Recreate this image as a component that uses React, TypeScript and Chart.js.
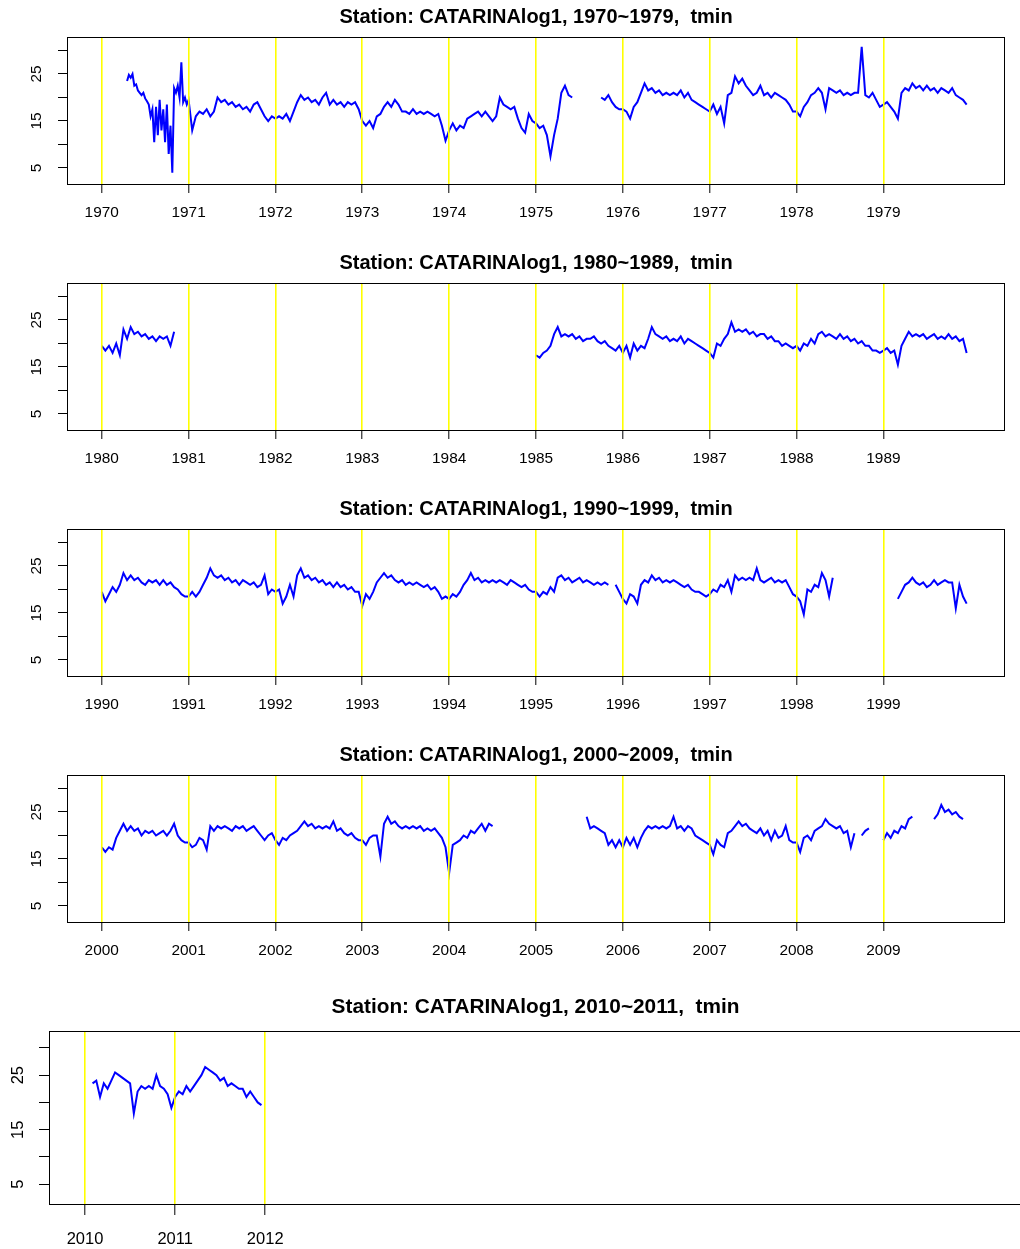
import React, { useEffect, useRef } from "react";
import { Chart, registerables } from "chart.js";

Chart.register(...registerables);

// Daily minimum temperature (°C) at CATARINAlog1, sampled at even steps through each
// year (index i of an n-long year array sits at year + i / n). null = no record.
const _ = null;

// 1970s
const t1970 = [_, _, _, _, _, _, _, _, _, _, _, _, _, _, 23.5, 24.8, 24.2, 25, 22.5, 22.8, 21.5, 21, 20.5, 21, 19.8, 19.2, 18.5, 16, 17.5, 10.5, 18, 12, 19.5, 13, 17.5, 10.5, 18.5, 8, 14, 4, 22, 21, 22.5, 20, 27.5, 19, 20, 18.5];
const t1971 = [19.5, 13, 16, 17, 16.5, 17.5, 16, 17, 20, 19, 19.5, 18.5, 19, 18, 18.5, 17.5, 18, 17, 18.5, 19, 17.5, 16, 15, 16];
const t1972 = [15.5, 16, 15.5, 16.5, 15, 17, 19, 20.5, 19.5, 20, 19, 19.5, 18.5, 20, 21, 18.5, 19.5, 18.5, 19, 18, 19, 18.5, 19, 17.5];
const t1973 = [15, 14, 15, 13.5, 16, 16.5, 18, 19, 18, 19.5, 18.5, 17, 17, 16.5, 17.5, 16.5, 17, 16.5, 17, 16.5, 16, 16.5, 14, 10.8];
const t1974 = [13, 14.5, 13, 14, 13.5, 15.5, 16, 16.5, 17, 16, 17, 16, 15, 16, 20, 18.5, 18, 17.5, 18, 15.5, 13.5, 12.5, 16.5, 15];
const t1975 = [14.5, 13.5, 14, 12, 7.5, 12, 15.5, 21, 22.5, 20.5, 20, _, _, _, _, _, _, _, 20, 19.5, 20.5, 19, 18, 17.5];
const t1976 = [17.5, 17, 15.5, 18, 19, 21, 23, 21.5, 22, 21, 21.5, 20.5, 21, 20.5, 21, 20.5, 21.5, 20, 21, 19.5, 19, 18.5, 18, 17.5];
const t1977 = [17, 18.5, 16.5, 18, 14.5, 20.5, 21, 24.5, 23, 24, 22.5, 21.5, 20.5, 21, 22.5, 20.5, 21, 20, 21, 20.5, 20, 19.5, 18.5, 17];
const t1978 = [17, 16, 18, 19, 20.5, 21, 22, 21, 17.5, 22, 21.5, 21, 21.5, 20.5, 21, 20.5, 21, 21, 30.8, 20.5, 20, 21, 19.5, 18];
const t1979 = [18.5, 19, 18, 17, 15.5, 21, 22, 21.5, 23, 22, 22.5, 21.5, 22.5, 21.5, 22, 21, 22, 21.5, 21, 22, 20.5, 20, 19.5, 18.5];

// 1980s
const t1980 = [19.5, 18.5, 19.5, 18, 20, 17.5, 23, 21, 23.5, 22, 22.5, 21.5, 22, 21, 21.5, 20.5, 21.5, 21, 21.5, 19.5, 22.5, _, _, _];
const t1985 = [17.5, 17, 18, 18.5, 19.5, 22, 23.5, 21.5, 22, 21.5, 22, 21, 21.5, 20.5, 21, 21, 21.5, 20.5, 20, 20.5, 19.5, 19, 18.5, 19.5];
const t1986 = [18, 19.5, 17, 20, 18.5, 19.5, 19, 21, 23.5, 22, 21.5, 21, 21.5, 20.5, 21, 20.5, 21.5, 20, 21, 20.5, 20, 19.5, 19, 18.5];
const t1987 = [18, 17, 20, 19.5, 21, 22, 24.5, 22.5, 23, 22.5, 23, 22, 22.5, 21.5, 22, 22, 21, 21.5, 20.5, 20.5, 19.5, 20, 19.5, 19];
const t1988 = [19.5, 18.5, 20, 19.5, 21, 20, 22, 22.5, 21.5, 22, 21.5, 21, 22, 21, 21.5, 20.5, 21, 20, 20.5, 19.5, 19.5, 18.5, 18.5, 18];
const t1989 = [18.5, 19, 18, 18.5, 15.5, 19.5, 21, 22.5, 21.5, 22, 21.5, 22, 21, 21.5, 22, 21, 21.5, 21, 22, 21, 21.5, 20.5, 21, 18];

// 1990s
const t1990 = [19.5, 17.5, 19, 20.5, 19.5, 21, 23.5, 22, 23, 22, 22.5, 21.5, 21, 22, 21.5, 22, 21, 22, 21, 21.5, 20.5, 20, 19, 18.5];
const t1991 = [18.5, 19.5, 18.5, 19.5, 21, 22.5, 24.5, 23, 22.5, 23, 22, 22.5, 21.5, 22, 21, 22, 21.5, 21, 21.5, 20.5, 21, 23, 19, 20];
const t1992 = [19.5, 20, 17, 18.5, 21, 18.5, 23, 24.5, 22.5, 23, 22, 22.5, 21.5, 22, 21, 21.5, 20.5, 21.5, 20.5, 21, 20, 20.5, 19.5, 19.5];
const t1993 = [16.5, 19, 18, 19.5, 21.5, 22.5, 23.5, 22.5, 23, 22, 21.5, 22, 21, 21.5, 21, 21.5, 21, 20.5, 21, 20, 20.5, 19.5, 18, 18.5];
const t1994 = [18, 19, 18.5, 19.5, 21, 22, 23.5, 22, 22.5, 21.5, 22, 21.5, 22, 21.5, 22, 21.5, 21, 22, 21.5, 21, 20.5, 21, 20, 19.5];
const t1995 = [19.5, 18.5, 19.5, 19, 20.5, 19.5, 22.5, 23, 22, 22.5, 21.5, 22, 22.5, 21.5, 22, 21.5, 21, 21.5, 21, 21.5, 21, _, 21, 19.5];
const t1996 = [18, 17, 19, 18.5, 17, 21, 22, 21.5, 23, 22, 22.5, 21.5, 22, 21.5, 22, 21.5, 21, 20.5, 21, 20, 19.5, 19.5, 19, 18.5];
const t1997 = [19, 20, 19.5, 21, 20.5, 22, 19.5, 23, 22, 22.5, 22, 22.5, 22, 24.5, 22, 21.5, 22, 22.5, 21.5, 22, 21.5, 22, 20.5, 19];
const t1998 = [18.5, 17.5, 14.7, 20, 19.5, 21, 20.5, 23.5, 22, 18.5, 22.5, _, _, _, _, _, _, _, _, _, _, _, _, _];
const t1999 = [_, _, _, _, 18, 19.5, 21, 21.5, 22.5, 21.5, 21, 21.5, 20.5, 21, 22, 21, 21.5, 22, 21.5, 21.5, 16, 21, 18.5, 17];

// 2000s
const t2000 = [17.5, 16.5, 17.5, 17, 19.5, 21, 22.5, 21, 22, 21, 21.5, 20, 21, 20.5, 21, 20, 20.5, 21, 20, 21, 22.5, 20, 19, 18.5];
const t2001 = [18.5, 17.5, 18, 19.5, 19, 17, 22, 21, 22, 21.5, 22, 21.5, 21, 22, 21.5, 22, 21, 21.5, 22, 21, 20, 19, 20, 20.5];
const t2002 = [19, 18, 19.5, 19, 20, 20.5, 21, 22, 23, 22, 22.5, 21.5, 22, 21.5, 22, 21.5, 23, 21, 21.5, 20.5, 20, 20.5, 19.5, 19];
const t2003 = [19, 18, 19.5, 20, 20, 15.5, 22.5, 24, 22.5, 23, 22, 21.5, 22, 21.5, 22, 21.5, 22, 21, 21.5, 21, 21.5, 20.5, 19.5, 17.5];
const t2004 = [12, 18, 18.5, 19, 20, 19.5, 21, 20.5, 21.5, 22.5, 21, 22.5, 22, _, _, _, _, _, _, _, _, _, _, _];
const t2005 = [_, _, _, _, _, _, _, _, _, _, _, _, _, _, 24, 21.5, 22, 21.5, 21, 20.5, 18, 19, 17.5, 19];
const t2006 = [17.5, 19.5, 18, 19.5, 17.5, 19.5, 21, 22, 21.5, 22, 21.5, 22, 21.5, 22, 24, 21.5, 22, 21, 22, 21.5, 20, 19.5, 19, 18.5];
const t2007 = [18, 16, 19, 18, 17.5, 20.5, 21, 22, 23, 22, 22.5, 21.5, 21, 20.5, 21.5, 20, 21, 19, 21, 19.5, 20, 22, 19, 18.5];
const t2008 = [18.5, 16.5, 19.5, 20, 19, 21, 21.5, 22, 23.5, 22.5, 22, 21.5, 22, 20.5, 21, 17.5, 20.5, _, 20, 21, 21.5, _, _, _];
const t2009 = [19, 20.5, 19.5, 21, 20.5, 22, 21.5, 23.5, 24, _, _, _, _, _, 23.5, 24.5, 26.5, 25, 25.5, 24.5, 25, 24, 23.5, _];

// 2010s
const t2010 = [_, _, 23.5, 24, 21, 23.5, 22.5, 24, 25.5, 25, 24.5, 24, 23.5, 18, 22, 23, 22.5, 23, 22.5, 25, 23, 22.5, 21.5, 19];
const t2011 = [21, 22, 21.5, 23, 22, 23, 24, 25, 26.5, 26, 25.5, 25, 24, 24.5, 23, 23.5, 23, 22.5, 22.5, 21, 22, 21, 20, 19.5];

// Axis ticks
const yTickValues = [5, 10, 15, 20, 25, 30];
const yTickLabels = [5, 15, 25];
const years1970s = [1970, 1971, 1972, 1973, 1974, 1975, 1976, 1977, 1978, 1979];
const years1980s = [1980, 1981, 1982, 1983, 1984, 1985, 1986, 1987, 1988, 1989];
const years1990s = [1990, 1991, 1992, 1993, 1994, 1995, 1996, 1997, 1998, 1999];
const years2000s = [2000, 2001, 2002, 2003, 2004, 2005, 2006, 2007, 2008, 2009];
const years2010s = [2010, 2011, 2012];

type Series = Record<number, (number | null)[]>;

const records: Series = {
  1970: t1970, 1971: t1971, 1972: t1972, 1973: t1973, 1974: t1974,
  1975: t1975, 1976: t1976, 1977: t1977, 1978: t1978, 1979: t1979,
  1980: t1980, 1985: t1985, 1986: t1986, 1987: t1987, 1988: t1988, 1989: t1989,
  1990: t1990, 1991: t1991, 1992: t1992, 1993: t1993, 1994: t1994,
  1995: t1995, 1996: t1996, 1997: t1997, 1998: t1998, 1999: t1999,
  2000: t2000, 2001: t2001, 2002: t2002, 2003: t2003, 2004: t2004,
  2005: t2005, 2006: t2006, 2007: t2007, 2008: t2008, 2009: t2009,
  2010: t2010, 2011: t2011,
};

const STATION = "CATARINAlog1";
const VARIABLE = "tmin";

type PanelSpec = { from: number; to: number; ticks: number[]; dataYears: number[] };

const panels: PanelSpec[] = [
  { from: 1970, to: 1979, ticks: years1970s, dataYears: years1970s },
  { from: 1980, to: 1989, ticks: years1980s, dataYears: years1980s },
  { from: 1990, to: 1999, ticks: years1990s, dataYears: years1990s },
  { from: 2000, to: 2009, ticks: years2000s, dataYears: years2000s },
  { from: 2010, to: 2011, ticks: years2010s, dataYears: [2010, 2011] },
];

type Geo = {
  top: number; width: number; height: number;
  yAxisW: number; xAxisH: number; padRight: number;
  titleSize: number; titlePadTop: number; titlePadBottom: number;
  tickSize: number; xTickLen: number; xTickPad: number; yTickLen: number; yTickPad: number;
  yMin: number; yMax: number;
};

const stdGeo = (top: number): Geo => ({
  top, width: 1020, height: 246,
  yAxisW: 67, xAxisH: 61, padRight: 15,
  titleSize: 20, titlePadTop: 5, titlePadBottom: 8,
  tickSize: 15.4, xTickLen: 8, xTickPad: 11, yTickLen: 9, yTickPad: 12.4,
  yMin: 1.38, yMax: 32.87,
});

const geos: Geo[] = [
  stdGeo(0), stdGeo(246), stdGeo(492), stdGeo(738),
  {
    top: 984, width: 1040, height: 265,
    yAxisW: 49, xAxisH: 44, padRight: 18,
    titleSize: 20.8, titlePadTop: 10.5, titlePadBottom: 11.5,
    tickSize: 16.5, xTickLen: 10, xTickPad: 14.5, yTickLen: 10, yTickPad: 11.8,
    yMin: 1.2, yMax: 33.1,
  },
];

const FONT = '"Liberation Sans", Arial, Helvetica, sans-serif';

function buildPoints(years: number[]) {
  const pts: { x: number; y: number | null }[] = [];
  for (const yr of years) {
    const vals = records[yr];
    if (!vals) {
      pts.push({ x: yr, y: null });
      continue;
    }
    vals.forEach((v, i) => pts.push({ x: yr + i / vals.length, y: v }));
  }
  return pts;
}

// Black frame around the plotting region
const framePlugin = {
  id: "frame",
  afterDraw(chart: any) {
    const { ctx, chartArea: a } = chart;
    ctx.save();
    ctx.strokeStyle = "#000";
    ctx.lineWidth = 1;
    ctx.strokeRect(Math.round(a.left) + 0.5, Math.round(a.top) + 0.5, Math.round(a.right - a.left) - 1, Math.round(a.bottom - a.top) - 1);
    ctx.restore();
  },
};

function Panel({ spec, geo }: { spec: PanelSpec; geo: Geo }) {
  const ref = useRef<HTMLCanvasElement>(null);
  useEffect(() => {
    const first = spec.from;
    const title = `Station: ${STATION}, ${spec.from}~${spec.to},  ${VARIABLE}`;
    const chart = new Chart(ref.current!, {
      type: "line",
      data: {
        datasets: [
          {
            data: buildPoints(spec.dataYears) as any,
            borderColor: "#0000ff",
            borderWidth: 2,
            pointRadius: 0,
            spanGaps: false,
            tension: 0,
          },
        ],
      },
      options: {
        responsive: false,
        animation: false,
        devicePixelRatio: 1,
        events: [],
        layout: { padding: { left: 0, right: geo.padRight, top: 0, bottom: 0 } },
        plugins: {
          legend: { display: false },
          tooltip: { enabled: false },
          title: {
            display: true,
            text: title,
            fullSize: false,
            color: "#000",
            font: { family: FONT, size: geo.titleSize, weight: "bold", lineHeight: 1.2 },
            padding: { top: geo.titlePadTop, bottom: geo.titlePadBottom },
          },
        },
        scales: {
          x: {
            type: "linear",
            min: first - 0.4,
            max: first + 10.4,
            bounds: "data",
            afterBuildTicks: (s: any) => {
              s.ticks = spec.ticks.map((v) => ({ value: v }));
            },
            afterFit: (s: any) => {
              s.height = geo.xAxisH;
            },
            ticks: {
              autoSkip: false,
              minRotation: 0,
              maxRotation: 0,
              padding: geo.xTickPad,
              color: "#000",
              font: { family: FONT, size: geo.tickSize, lineHeight: 1.2 },
              callback: (v: any) => String(v),
            },
            grid: {
              color: "#ffff00",
              lineWidth: 1.6,
              z: 1,
              tickColor: "#000",
              tickWidth: 1,
              tickLength: geo.xTickLen,
              drawTicks: true,
              drawOnChartArea: true,
            },
            border: { display: false },
          },
          y: {
            type: "linear",
            min: geo.yMin,
            max: geo.yMax,
            bounds: "data",
            afterBuildTicks: (s: any) => {
              s.ticks = yTickValues.map((v) => ({ value: v }));
            },
            afterFit: (s: any) => {
              s.width = geo.yAxisW;
            },
            ticks: {
              autoSkip: false,
              minRotation: 90,
              maxRotation: 90,
              crossAlign: "center",
              padding: geo.yTickPad,
              color: "#000",
              font: { family: FONT, size: geo.tickSize, lineHeight: 1.2 },
              callback: (v: any) => (yTickLabels.includes(Number(v)) ? String(v) : ""),
            },
            grid: {
              drawOnChartArea: false,
              drawTicks: true,
              tickLength: geo.yTickLen,
              tickColor: "#000",
              lineWidth: 1,
            },
            border: { display: false },
          },
        },
      } as any,
      plugins: [framePlugin],
    });
    return () => chart.destroy();
  }, [spec, geo]);

  return (
    <canvas
      ref={ref}
      width={geo.width}
      height={geo.height}
      style={{ position: "absolute", left: 0, top: geo.top, width: geo.width, height: geo.height, display: "block" }}
    />
  );
}

export default function App() {
  return (
    <div
      style={{
        position: "absolute",
        left: 0,
        top: 0,
        width: 1020,
        height: 1249,
        overflow: "hidden",
        background: "#ffffff",
      }}
    >
      {panels.map((p, i) => (
        <Panel key={i} spec={p} geo={geos[i]} />
      ))}
    </div>
  );
}
